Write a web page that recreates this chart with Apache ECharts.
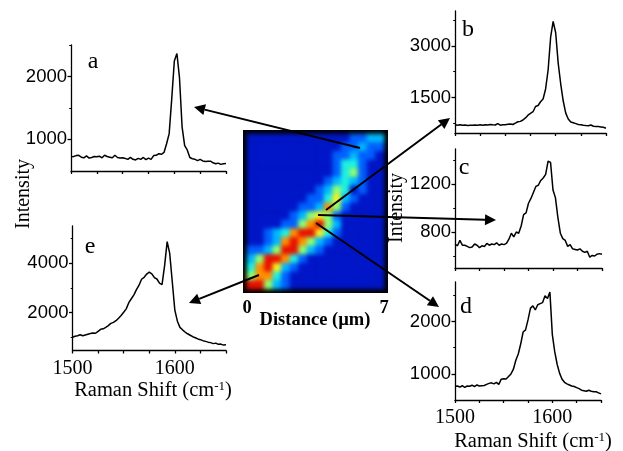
<!DOCTYPE html>
<html><head><meta charset="utf-8">
<style>
html,body{margin:0;padding:0;background:#fff;width:623px;height:451px;overflow:hidden}
#frame{position:absolute;left:243px;top:130px;width:145px;height:163px;background:#000;overflow:hidden}
#map{position:absolute;left:0;top:0;width:145px;height:163px;filter:blur(2px)}
#main{position:absolute;left:0;top:0;width:623px;height:451px}
</style>
<script src="https://cdn.jsdelivr.net/npm/echarts@6/dist/echarts.min.js"></script>
</head><body>
<div id="frame"><div id="map"></div></div>
<div id="main"></div>
<script>
const ramanShift=[1500,1502.5,1505,1507.5,1510,1512.5,1515,1517.5,1520,1522.5,1525,1527.5,1530,1532.5,1535,1537.5,1540,1542.5,1545,1547.5,1550,1552.5,1555,1557.5,1560,1562.5,1565,1567.5,1570,1572.5,1575,1577.5,1580,1582.5,1585,1587.5,1590,1592.5,1595,1597.5,1600,1602.5,1605,1607.5,1610,1612.5,1615,1617.5,1620,1622.5,1625,1627.5,1630,1632.5,1635,1637.5,1640,1642.5,1645,1647.5,1650];
const spectrumA=[720,725,740,745,715,705,735,700,710,725,720,730,705,745,725,715,705,745,710,700,705,695,680,710,680,670,695,680,710,675,700,680,740,745,770,760,790,930,1090,1650,2250,2370,1980,1200,900,830,710,690,680,660,680,655,645,650,650,625,610,620,600,610,615];
const spectrumB=[712,700,715,695,705,690,700,695,705,700,710,700,715,705,720,710,705,745,700,715,710,725,735,720,760,800,810,850,910,990,1040,1090,1240,1270,1380,1460,1750,2300,3250,3710,3380,2500,1900,1400,1050,880,790,770,745,720,715,700,690,685,705,670,665,660,650,640,610];
const spectrumC=[700,685,730,690,690,680,670,675,700,690,670,685,680,705,690,700,695,710,690,700,695,705,740,790,760,800,790,850,945,960,1040,1080,1130,1180,1190,1230,1250,1280,1390,1380,1150,1085,920,790,745,730,680,695,660,655,650,660,640,630,640,590,605,600,615,620,615];
const spectrumD=[760,770,750,775,745,770,765,785,760,790,770,775,780,800,820,830,810,840,800,900,910,905,950,1000,1090,1260,1380,1570,1800,1840,2030,2250,2300,2220,2320,2340,2360,2490,2440,2560,1750,1420,1180,1010,900,840,810,790,770,760,740,720,690,680,670,690,670,660,660,640,620];
const spectrumE=[1000,1040,1060,1100,1060,1090,1120,1150,1170,1160,1240,1320,1340,1400,1470,1560,1600,1670,1770,1880,2010,2150,2400,2560,2720,2930,3110,3350,3430,3560,3640,3570,3420,3360,3190,3130,3900,4875,4400,3250,2100,1650,1400,1300,1210,1140,1080,1020,980,930,900,860,830,800,780,740,760,710,720,680,690];
const distanceTicks=['0','7'];
const tickLabelsA=[1000,2000], tickLabelsB=[1500,3000], tickLabelsC=[800,1200], tickLabelsD=[1000,2000], tickLabelsE=[2000,4000];
const minorTicksA=[1500,2500], minorTicksB=[750,2250,3750], minorTicksC=[600,1000,1400], minorTicksD=[1500,2500], minorTicksE=[1000,3000,5000];
const shiftTicks=[1500,1525,1550,1575,1600,1625,1650];
const shiftTickLabels=[1500,1600];
const panelLetters=['a','b','c','d','e'];
const mapRows=[
'1111111111112233',
'1111111111122322',
'1111111111223221',
'1111111111244211',
'1111111111245211',
'1111111112343211',
'1111111123541211',
'1111111224632111',
'1111112237521111',
'1111123565211111',
'1111225785311111',
'1123478864211111',
'1123787532111111',
'2235885321111111',
'3588742111111111',
'4786321111111111',
'5774211111111111',
'8853211111111111'
];
const mapCells=[];
mapRows.forEach((row,r)=>row.split('').forEach((v,c)=>mapCells.push([c,mapRows.length-1-r,+v])));
const mapChart=echarts.init(document.getElementById('map'),null,{renderer:'canvas'});
mapChart.setOption({animation:false,
 grid:{left:4,top:4,width:137,height:155},
 xAxis:{type:'category',show:false,data:mapRows[0].split('').map((_,i)=>i)},
 yAxis:{type:'category',show:false,data:mapRows.map((_,i)=>i)},
 visualMap:{show:false,min:0,max:9,calculable:false,inRange:{color:['#0000a0','#0016c8','#0060ff','#00b8ff','#20f0e0','#90ff70','#f8f020','#ff9000','#e81000','#a00000']}},
 series:[{type:'heatmap',data:mapCells,progressive:0}]});

const INK='#000';
const SERIF='"Liberation Serif","Times New Roman",serif', SANS='"Liberation Sans",Arial,sans-serif';
const panels=[
 {d:spectrumA,t:tickLabelsA,m:minorTicksA,l:71,r:226,top:45,bot:171,min:494,max:2506,x:false},
 {d:spectrumB,t:tickLabelsB,m:minorTicksB,l:455,r:606,top:11,bot:133,min:473,max:4010,x:false},
 {d:spectrumC,t:tickLabelsC,m:minorTicksC,l:455,r:602,top:149,bot:268,min:500,max:1492,x:false},
 {d:spectrumD,t:tickLabelsD,m:minorTicksD,l:455,r:601,top:282,bot:400,min:503,max:2753,x:true},
 {d:spectrumE,t:tickLabelsE,m:minorTicksE,l:72.5,r:226,top:226,bot:350.5,min:461,max:5510,x:true}
];
const lineSt={color:INK,width:1.3};
const plain=v=>String(Math.round(v));
const opt={animation:false,grid:[],xAxis:[],yAxis:[],series:[]};
panels.forEach((p,i)=>{
 opt.grid.push({left:p.l,top:p.top,width:p.r-p.l,height:p.bot-p.top});
 opt.xAxis.push({gridIndex:i,type:'value',min:1500,max:1650,
  axisLine:{lineStyle:lineSt,onZero:false},
  axisTick:{length:3,lineStyle:lineSt,customValues:shiftTicks},splitLine:{show:false},
  axisLabel:{show:p.x,customValues:shiftTickLabels,formatter:plain,hideOverlap:false,margin:8,color:INK,fontFamily:SERIF,fontSize:20}});
 opt.yAxis.push({gridIndex:i,type:'value',min:p.min,max:p.max,
  axisLine:{lineStyle:lineSt,onZero:false},
  axisTick:{length:3.5,lineStyle:lineSt,customValues:p.t},splitLine:{show:false},
  axisLabel:{customValues:p.t,formatter:plain,hideOverlap:false,margin:4,color:INK,fontFamily:SANS,fontSize:18.5}});
 opt.yAxis.push({gridIndex:i,type:'value',min:p.min,max:p.max,position:'left',
  axisLine:{show:false,onZero:false},
  axisTick:{length:1.8,lineStyle:{color:INK,width:1},customValues:p.m},axisLabel:{show:false},splitLine:{show:false}});
 opt.series.push({type:'line',xAxisIndex:i,yAxisIndex:i*2,showSymbol:false,symbol:'none',smooth:false,
  lineStyle:{color:INK,width:1.5},data:ramanShift.map((s,k)=>[s,p.d[k]])});
});
function txt(x,y,t,font,extra){return Object.assign({type:'text',x:x,y:y,style:Object.assign({text:t,fill:INK,font:font,align:'center',verticalAlign:'middle'},extra&&extra.style||{})},extra&&extra.el||{});}
function arrow(x1,y1,x2,y2){
 const a=Math.atan2(y2-y1,x2-x1),len=11,hw=5.5;
 const bx=x2-len*Math.cos(a),by=y2-len*Math.sin(a),nx=-Math.sin(a),ny=Math.cos(a);
 return [{type:'line',shape:{x1,y1,x2:bx,y2:by},style:{stroke:'#000',lineWidth:2}},
  {type:'polygon',shape:{points:[[x2,y2],[bx+nx*hw,by+ny*hw],[bx-nx*hw,by-ny*hw]]},style:{fill:'#000'}}];
}
const serif24='24px '+SERIF, serif20='20.5px '+SERIF, bold18='bold 18.5px '+SERIF;
const ramanRich={rich:{b:{font:serif20,fill:INK},s:{font:'13px '+SERIF,fill:INK,verticalAlign:'top',padding:[0,0,7,0]}}};
opt.graphic={elements:[
 txt(93,62,panelLetters[0],serif24),txt(468,30,panelLetters[1],serif24),txt(464,168,panelLetters[2],serif24),txt(466,307,panelLetters[3],serif24),txt(90,247,panelLetters[4],serif24),
 txt(24,194,'Intensity','20px '+SERIF,{el:{rotation:Math.PI/2}}),
 txt(397,208,'Intensity','20px '+SERIF,{el:{rotation:Math.PI/2}}),
 txt(315,320,'Distance (µm)',bold18),
 txt(247,308,distanceTicks[0],bold18),txt(384,308,distanceTicks[1],bold18),
 txt(153,391,'{b|Raman Shift (cm}{s|-1}{b|)}',serif20,{style:ramanRich}),
 txt(533,442,'{b|Raman Shift (cm}{s|-1}{b|)}',serif20,{style:ramanRich}),
 ...arrow(360,148,194,107),...arrow(326,210,450,118),...arrow(318,215,496,220),...arrow(316,223,439,307),...arrow(259,275,189,303)
]};
const main=echarts.init(document.getElementById('main'),null,{renderer:'canvas'});
main.setOption(opt);
</script>
</body></html>
